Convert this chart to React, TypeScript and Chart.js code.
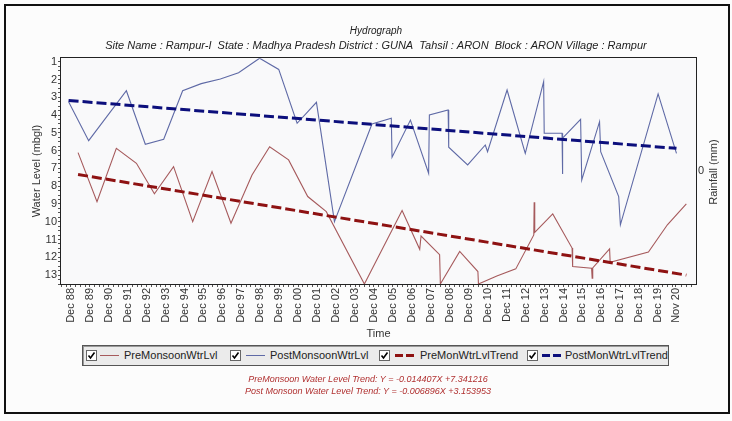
import React, { useEffect, useRef } from 'react';
import { Chart, registerables } from 'chart.js';

Chart.register(...registerables);

// ---------- data (decimal years, water level in m bgl) ----------
const preDates = [
  1989.30, 1990.30, 1991.32, 1992.38, 1993.33, 1994.34, 1995.35, 1996.37, 1997.37, 1998.48,
  1999.41, 2000.41, 2001.42, 2002.40, 2004.41, 2006.40, 2007.33, 2007.40, 2008.38, 2008.42,
  2009.44, 2010.40, 2010.43, 2011.40, 2012.40, 2013.35, 2013.37, 2013.40, 2014.35, 2015.37,
  2015.40, 2016.40, 2016.43, 2016.46, 2017.35, 2017.38, 2019.40, 2020.40, 2021.40,
];
const preLevels = [
  6.11, 8.87, 5.87, 6.71, 8.43, 6.90, 9.99, 7.18, 10.08, 7.37,
  5.78, 6.52, 8.58, 9.43, 13.5, 9.37, 11.55, 10.80, 11.85, 13.5,
  11.67, 12.80, 13.5, 13.05, 12.65, 10.74, 8.90, 10.60, 9.56, 11.48,
  12.52, 12.61, 13.17, 12.60, 11.52, 12.28, 11.70, 10.17, 9.00,
];
const postDates = [
  1988.80, 1989.86, 1991.85, 1992.85, 1993.82, 1994.82, 1995.80, 1996.81, 1997.77, 1998.88,
  1999.89, 2000.86, 2001.88, 2002.83, 2004.81, 2005.83, 2005.87, 2006.84, 2007.80, 2007.84,
  2008.83, 2008.86, 2009.86, 2010.79, 2010.91, 2011.94, 2012.90, 2013.87, 2013.90, 2014.84,
  2014.86, 2014.88, 2015.82, 2015.88, 2016.82, 2016.88, 2017.83, 2017.92, 2019.91, 2020.88,
];
const postLevels = [
  3.25, 5.44, 2.63, 5.64, 5.36, 2.63, 2.23, 1.97, 1.62, 0.80,
  1.43, 4.46, 3.28, 9.99, 4.50, 4.18, 6.37, 4.28, 7.27, 3.99,
  3.71, 5.81, 6.80, 5.68, 6.06, 2.59, 6.15, 2.12, 5.02, 5.02,
  7.31, 5.30, 4.24, 7.65, 4.37, 6.06, 8.58, 10.17, 2.81, 6.15,
];
const preTrendDates = [1989.30, 2021.40];
const preTrendLevels = [7.34, 13.0];
const postTrendDates = [1988.80, 2020.88];
const postTrendLevels = [3.18, 5.87];

const xTickLabels = [
  'Dec 88', 'Dec 89', 'Dec 90', 'Dec 91', 'Dec 92', 'Dec 93', 'Dec 94', 'Dec 95', 'Dec 96', 'Dec 97',
  'Dec 98', 'Dec 99', 'Dec 00', 'Dec 01', 'Dec 02', 'Dec 03', 'Dec 04', 'Dec 05', 'Dec 06', 'Dec 07',
  'Dec 08', 'Dec 09', 'Dec 10', 'Dec 11', 'Dec 12', 'Dec 13', 'Dec 14', 'Dec 15', 'Dec 16', 'Dec 17',
  'Dec 18', 'Dec 19', 'Nov 20',
];
const yTickValues = [1, 2, 3, 4, 5, 6, 7, 8, 9, 10, 11, 12, 13];
const rightTickValues = [0];

const seriesNames = ['PreMonsoonWtrLvl', 'PostMonsoonWtrLvl', 'PreMonWtrLvlTrend', 'PostMonWtrLvlTrend'];
const titleText = 'Hydrograph';
const subtitleText = 'Site Name : Rampur-I  State : Madhya Pradesh District : GUNA  Tahsil : ARON  Block : ARON Village : Rampur';
const equations = [
  'PreMonsoon Water Level Trend: Y = -0.014407X +7.341216',
  'Post Monsoon Water Level Trend: Y = -0.006896X +3.153953',
];

// ---------- styling ----------
const X_MIN = 1988.40;
const X_MAX = 2021.91;
const Y_MIN = 0.8;
const Y_MAX = 13.5;
const FONT = '"Liberation Sans", Arial, sans-serif';
const PRE_COLOR = '#a65a5c';
const POST_COLOR = '#5f6aa6';
const PRE_TREND = '#8e1212';
const POST_TREND = '#0c0f7c';

const MONTHS = ['Jan', 'Feb', 'Mar', 'Apr', 'May', 'Jun', 'Jul', 'Aug', 'Sep', 'Oct', 'Nov', 'Dec'];
function labelToYear(l: string): number {
  const [m, yy] = l.split(' ');
  const n = parseInt(yy, 10);
  const year = n > 50 ? 1900 + n : 2000 + n;
  return year + MONTHS.indexOf(m) / 12;
}

function zip(xs: number[], ys: number[]) {
  return xs.map((x, i) => ({ x, y: ys[i] }));
}

export default function App() {
  const canvasRef = useRef<HTMLCanvasElement | null>(null);

  useEffect(() => {
    const canvas = canvasRef.current;
    if (!canvas) return;
    Chart.defaults.font.family = FONT;
    Chart.defaults.color = '#333';

    // x ticks: majors with labels, quarterly minors without
    const majors = xTickLabels.map((l) => ({ value: labelToYear(l), label: l }));
    const all: { value: number; label: string }[] = [...majors];
    const base = majors[0].value;
    for (let k = -4; base + k * 0.25 <= X_MAX; k++) {
      const v = base + k * 0.25;
      if (v < X_MIN) continue;
      if (majors.some((m) => Math.abs(m.value - v) < 0.1)) continue;
      all.push({ value: v, label: '' });
    }
    all.sort((a, b) => a.value - b.value);
    const xTickText = all.map((t) => t.label);

    const yAll: number[] = [];
    for (let i = 4; i <= 54; i++) yAll.push(i / 4);

    const borderPlugin = {
      id: 'frameAndRightTitle',
      beforeDraw(chart: any) {
        const { ctx, chartArea } = chart;
        ctx.save();
        ctx.fillStyle = '#fcfcfc';
        ctx.fillRect(0, 0, chart.width, chart.height);
        ctx.fillStyle = '#f9f9fa';
        ctx.fillRect(chartArea.left, chartArea.top, chartArea.right - chartArea.left, chartArea.bottom - chartArea.top);
        ctx.restore();
      },
      afterDraw(chart: any) {
        const { ctx, chartArea } = chart;
        ctx.save();
        ctx.strokeStyle = '#222';
        ctx.lineWidth = 1;
        const l = Math.round(chartArea.left) - 0.5;
        const t = Math.round(chartArea.top) - 0.5;
        const r = Math.round(chartArea.right) + 0.5;
        const b = Math.round(chartArea.bottom) + 0.5;
        ctx.strokeRect(l, t, r - l, b - t);
        ctx.translate(714, 172);
        ctx.rotate(-Math.PI / 2);
        ctx.fillStyle = '#333';
        ctx.font = '11px ' + FONT;
        ctx.textAlign = 'center';
        ctx.textBaseline = 'middle';
        ctx.fillText('Rainfall (mm)', 0, 0);
        ctx.restore();
      },
    };

    const chart = new Chart(canvas, {
      type: 'line',
      data: {
        datasets: [
          {
            label: seriesNames[2],
            data: zip(preTrendDates, preTrendLevels),
            borderColor: PRE_TREND,
            borderWidth: 3,
            borderDash: [10, 4],
            pointRadius: 0,
            order: 0,
          },
          {
            label: seriesNames[3],
            data: zip(postTrendDates, postTrendLevels),
            borderColor: POST_TREND,
            borderWidth: 3,
            borderDash: [10, 4],
            pointRadius: 0,
            order: 0,
          },
          {
            label: seriesNames[0],
            data: zip(preDates, preLevels),
            borderColor: PRE_COLOR,
            borderWidth: 1.1,
            pointRadius: 0,
            tension: 0,
            order: 1,
          },
          {
            label: seriesNames[1],
            data: zip(postDates, postLevels),
            borderColor: POST_COLOR,
            borderWidth: 1.1,
            pointRadius: 0,
            tension: 0,
            order: 1,
          },
        ],
      },
      options: {
        animation: false,
        responsive: false,
        devicePixelRatio: 1,
        events: [],
        layout: { padding: { left: 20, right: 0, top: 4, bottom: 76 } },
        plugins: {
          legend: { display: false },
          tooltip: { enabled: false },
          title: {
            display: true,
            text: titleText,
            color: '#222',
            font: { size: 10, style: 'italic', weight: 'normal', family: FONT },
            padding: { top: 21, bottom: 2 },
          },
          subtitle: {
            display: true,
            text: subtitleText,
            color: '#222',
            font: { size: 11, style: 'italic', weight: 'normal', family: FONT },
            padding: { top: 0, bottom: 6 },
          },
        },
        scales: {
          x: {
            type: 'linear',
            min: X_MIN,
            max: X_MAX,
            afterBuildTicks: (scale: any) => {
              scale.ticks = all.map((t) => ({ value: t.value }));
            },
            afterFit: (scale: any) => {
              scale.height = 61;
            },
            ticks: {
              autoSkip: false,
              minRotation: 90,
              maxRotation: 90,
              padding: 1,
              color: '#333',
              font: { size: 11, family: FONT },
              callback: (_v: any, i: number) => xTickText[i] ?? '',
            },
            grid: { display: true, drawOnChartArea: false, drawTicks: true, tickLength: 3, color: '#555' },
            border: { display: false },
            title: {
              display: true,
              text: 'Time',
              color: '#333',
              font: { size: 11, family: FONT },
              padding: { top: 0, bottom: 4 },
            },
          },
          y: {
            type: 'linear',
            position: 'left',
            reverse: true,
            min: Y_MIN,
            max: Y_MAX,
            afterBuildTicks: (scale: any) => {
              scale.ticks = yAll.map((v) => ({ value: v }));
            },
            afterFit: (scale: any) => {
              scale.width = 41;
            },
            ticks: {
              autoSkip: false,
              padding: 1,
              color: '#333',
              font: { size: 11, family: FONT },
              callback: (v: any) => (yTickValues.includes(v) ? String(v) : ''),
            },
            grid: { display: true, drawOnChartArea: false, drawTicks: true, tickLength: 3, color: '#555' },
            border: { display: false },
            title: {
              display: true,
              text: 'Water Level (mbgl)',
              color: '#333',
              font: { size: 11, family: FONT },
              padding: { top: 10, bottom: 0 },
            },
          },
          y2: {
            type: 'linear',
            position: 'right',
            min: -1,
            max: 1,
            afterBuildTicks: (scale: any) => {
              scale.ticks = rightTickValues.map((v) => ({ value: v }));
            },
            afterFit: (scale: any) => {
              scale.width = 36;
            },
            ticks: {
              padding: 2,
              color: '#333',
              font: { size: 11, family: FONT },
            },
            grid: { display: false, drawTicks: false, tickLength: 0 },
            border: { display: false },
          },
        },
      } as any,
      plugins: [borderPlugin],
    });

    return () => chart.destroy();
  }, []);

  const legendText: React.CSSProperties = {
    position: 'absolute',
    top: 349,
    fontFamily: FONT,
    fontSize: 11,
    lineHeight: '13px',
    color: '#222',
    whiteSpace: 'nowrap',
  };

  const Check = ({ left }: { left: number }) => (
    <div
      style={{
        position: 'absolute',
        left,
        top: 350,
        width: 9,
        height: 9,
        background: '#fff',
        border: '1px solid #666',
      }}
    >
      <svg width="9" height="9" style={{ position: 'absolute', left: 0, top: 0 }}>
        <polyline points="1.5,4.5 3.5,7 7.5,1.5" fill="none" stroke="#000" strokeWidth="1.6" />
      </svg>
    </div>
  );

  const Solid = ({ left, width, color }: { left: number; width: number; color: string }) => (
    <div style={{ position: 'absolute', left, top: 355, width, height: 1, background: color }} />
  );

  const Dashes = ({ left, color }: { left: number; color: string }) => (
    <>
      <div style={{ position: 'absolute', left, top: 354, width: 8, height: 3, background: color }} />
      <div style={{ position: 'absolute', left: left + 11, top: 354, width: 8, height: 3, background: color }} />
    </>
  );

  return (
    <div
      style={{
        position: 'absolute',
        left: 0,
        top: 0,
        width: 732,
        height: 421,
        background: '#fcfcfc',
        overflow: 'hidden',
      }}
    >
      <canvas
        ref={canvasRef}
        width={732}
        height={421}
        style={{ position: 'absolute', left: 0, top: 0, width: 732, height: 421 }}
      />
      <div
        style={{
          position: 'absolute',
          left: 4,
          top: 4,
          width: 726,
          height: 410,
          boxSizing: 'border-box',
          border: '2px solid #111',
          pointerEvents: 'none',
        }}
      />
      <div
        style={{
          position: 'absolute',
          left: 82,
          top: 345,
          width: 587,
          height: 21,
          boxSizing: 'border-box',
          background: '#ebebeb',
          border: '1px solid #555',
          boxShadow: 'inset 1px 1px 0 #999',
        }}
      />
      <Check left={86} />
      <Solid left={100} width={19} color={PRE_COLOR} />
      <div style={{ ...legendText, left: 124 }}>{seriesNames[0]}</div>
      <Check left={230} />
      <Solid left={246} width={19} color={POST_COLOR} />
      <div style={{ ...legendText, left: 270 }}>{seriesNames[1]}</div>
      <Check left={379} />
      <Dashes left={395} color={PRE_TREND} />
      <div style={{ ...legendText, left: 420 }}>{seriesNames[2]}</div>
      <Check left={527} />
      <Dashes left={542} color={POST_TREND} />
      <div style={{ ...legendText, left: 565 }}>{seriesNames[3]}</div>
      <div
        style={{
          position: 'absolute',
          left: 0,
          top: 373,
          width: 736,
          textAlign: 'center',
          fontFamily: FONT,
          fontSize: 9,
          fontStyle: 'italic',
          lineHeight: '12px',
          color: '#b03030',
        }}
      >
        {equations.map((e) => (
          <div key={e}>{e}</div>
        ))}
      </div>
    </div>
  );
}
